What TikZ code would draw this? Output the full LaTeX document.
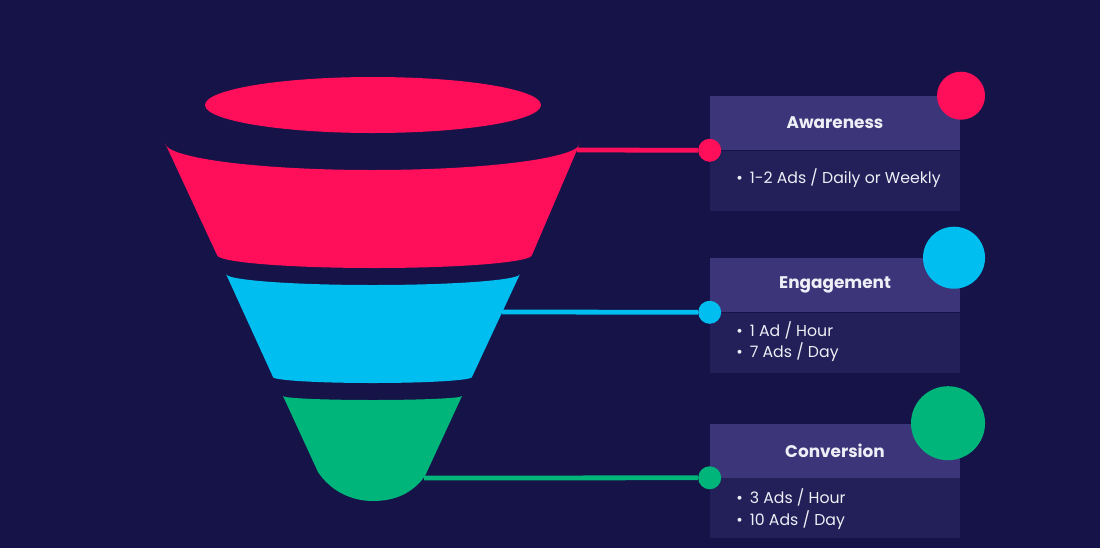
\documentclass[tikz,border=0pt]{standalone}
\usepackage{fontspec}
\setmainfont{Poppins}
\usetikzlibrary{positioning}
\definecolor{bgnavy}{RGB}{22,19,72}
\definecolor{funnelpink}{RGB}{255,14,90}
\definecolor{funnelblue}{RGB}{0,190,240}
\definecolor{funnelgreen}{RGB}{0,181,122}
\definecolor{headfill}{RGB}{61,53,121}
\definecolor{bodyfill}{RGB}{35,31,89}
\definecolor{labeltext}{RGB}{238,238,246}

\begin{document}
\begin{tikzpicture}[x=0.025cm,y=-0.025cm]
\tikzstyle{every node}+=[inner sep=0pt]
\tikzstyle{head}=[fill=headfill, minimum width=6.25cm, minimum height=1.35cm, text=labeltext, font=\bfseries\fontsize{12}{14}\selectfont]
\tikzstyle{body}=[fill=bodyfill, minimum width=6.25cm, minimum height=1.5cm]
\tikzstyle{item}=[anchor=west, text=labeltext, font=\fontsize{11.2}{13}\selectfont]
\tikzstyle{dot}=[circle, minimum size=0.575cm]
\tikzstyle{bigdot}=[circle, anchor=east]
\tikzstyle{link}=[line width=3.4pt]
\fill [bgnavy] (0,0) rectangle (1100,548);
\useasboundingbox (0,0) rectangle (1100,548);
\fill [funnelpink] (373,105) ellipse [x radius=168, y radius=28];
\fill [funnelpink] (165,143) arc [start angle=180, end angle=0, x radius=207.5, y radius=27] -- (532,255) arc [start angle=0, end angle=180, x radius=157.5, y radius=13] -- cycle;
\fill [funnelblue] (226,274) arc [start angle=180, end angle=0, x radius=147, y radius=11] -- (472,377) arc [start angle=0, end angle=180, x radius=99.5, y radius=6] -- cycle;
\fill [funnelgreen] (283,396) arc [start angle=180, end angle=0, x radius=89.5, y radius=4] -- (425,476) .. controls (412,494) and (394,501) .. (373,501) .. controls (350,501) and (330,490) .. (318,472) -- cycle;
\coordinate (pinkedge) at (577,150);
\coordinate (blueedge) at (502,312);
\coordinate (greenedge) at (424,478);
\node [head] (awareness) at (835,123) {Awareness};
\node [body, below=0cm of awareness] (awarenessbody) {};
\node [head] (engagement) at (835,285) {Engagement};
\node [body, below=0cm of engagement] (engagementbody) {};
\node [head] (conversion) at (835,450.5) {Conversion};
\node [body, below=0cm of conversion] (conversionbody) {};
\node [item] (aw1) at (736,178) {\textbullet\hspace{5pt}1-2 Ads / Daily or Weekly};
\node [item] (en1) at (736,330) {\textbullet\hspace{5pt}1 Ad / Hour};
\node [item] (en2) at (736,352) {\textbullet\hspace{5pt}7 Ads / Day};
\node [item] (co1) at (736,497) {\textbullet\hspace{5pt}3 Ads / Hour};
\node [item] (co2) at (736,520) {\textbullet\hspace{5pt}10 Ads / Day};
\node [dot, fill=funnelpink] (awarenessdot) at (awareness.south west) {};
\node [dot, fill=funnelblue] (engagementdot) at (engagement.south west) {};
\node [dot, fill=funnelgreen] (conversiondot) at (conversion.south west) {};
\draw [link, funnelpink] (pinkedge) -- (awarenessdot);
\draw [link, funnelblue] (blueedge) -- (engagementdot);
\draw [link, funnelgreen] (greenedge) -- (conversiondot);
\node [bigdot, fill=funnelpink, minimum size=1.2cm] (awarenesscircle) at ([xshift=0.625cm]awareness.north east) {};
\node [bigdot, fill=funnelblue, minimum size=1.55cm] (engagementcircle) at ([xshift=0.625cm]engagement.north east) {};
\node [bigdot, fill=funnelgreen, minimum size=1.85cm] (conversioncircle) at ([xshift=0.625cm]conversion.north east) {};
\end{tikzpicture}
\end{document}
